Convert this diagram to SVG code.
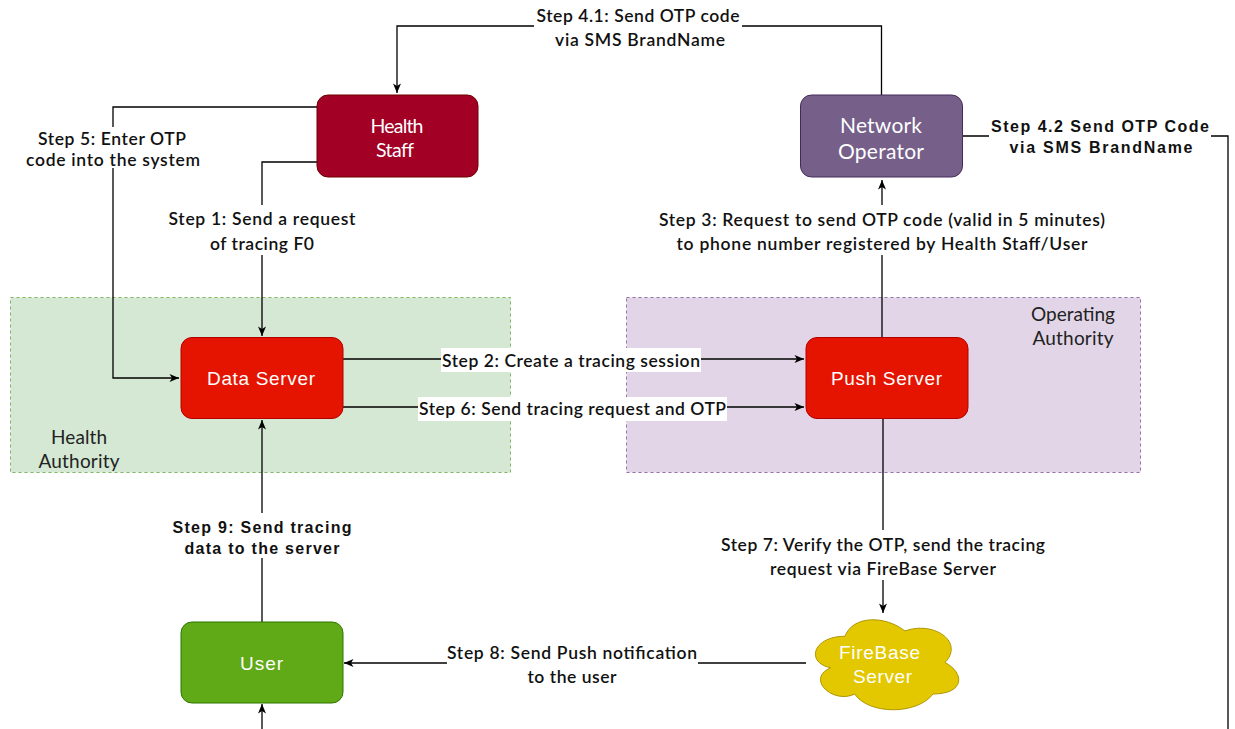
<svg xmlns="http://www.w3.org/2000/svg" width="1235" height="729" viewBox="0 0 1235 729">
<style>
.lbl{font-family:Lato,"Open Sans","Liberation Sans",sans-serif;font-size:17.5px;font-weight:600;fill:#111;text-anchor:middle;dominant-baseline:central}
.lbla{font-family:"Liberation Sans",Arial,sans-serif;font-size:16px;font-weight:bold;fill:#111;text-anchor:middle;dominant-baseline:central}
.nt{font-family:Lato,"Open Sans",sans-serif;font-size:19.5px;fill:#fff;text-anchor:middle;dominant-baseline:central}
.na{font-family:"Liberation Sans",Arial,sans-serif;font-size:19px;fill:#fff;text-anchor:middle;dominant-baseline:central}
.ct{font-family:Lato,"Open Sans",sans-serif;font-size:19px;fill:#222;text-anchor:middle;dominant-baseline:central}
.bg{fill:#fff}
.conn{fill:none;stroke:#000;stroke-width:1.3}
</style>
<defs>
<marker id="arr" viewBox="0 0 10 10" refX="10" refY="5" markerWidth="10" markerHeight="10" markerUnits="userSpaceOnUse" orient="auto">
<path d="M0.5,1 L10,5 L0.5,9 L3,5 Z" fill="#000"/>
</marker>
</defs>
<g id="health-authority">
<rect x="10.5" y="297.5" width="500" height="175" fill="#d5e8d4" stroke="#82b366" stroke-dasharray="3 3"/>
<text class="ct" x="79" y="436" textLength="56">Health</text>
<text class="ct" x="79" y="460" textLength="81">Authority</text>
</g>
<g id="operating-authority">
<rect x="626.5" y="297.5" width="514" height="175" fill="#e1d5e7" stroke="#9673a6" stroke-dasharray="3 3"/>
<text class="ct" x="1073" y="313" textLength="84">Operating</text>
<text class="ct" x="1073" y="337" textLength="81">Authority</text>
</g>
<g id="connectors">
<path class="conn" d="M881.5,95 V26 H397 V93" marker-end="url(#arr)"/>
<path class="conn" d="M963,136 H1228 V729"/>
<path class="conn" d="M317,107 H113 V378 H179" marker-end="url(#arr)"/>
<path class="conn" d="M317,162 H262 V336" marker-end="url(#arr)"/>
<path class="conn" d="M343,359 H804" marker-end="url(#arr)"/>
<path class="conn" d="M343,407 H804" marker-end="url(#arr)"/>
<path class="conn" d="M882,337 V180" marker-end="url(#arr)"/>
<path class="conn" d="M883,419 V613" marker-end="url(#arr)"/>
<path class="conn" d="M806,663 H344" marker-end="url(#arr)"/>
<path class="conn" d="M262,622 V420" marker-end="url(#arr)"/>
<path class="conn" d="M262,729 V704" marker-end="url(#arr)"/>
<g id="labels">
<rect class="bg" x="534" y="4" width="208" height="47"/>
<text class="lbl" x="638" y="15" textLength="203">Step 4.1: Send OTP code</text>
<text class="lbl" x="640" y="39" textLength="170">via SMS BrandName</text>
<rect class="bg" x="989" y="116" width="222" height="42"/>
<text class="lbla" x="1100" y="126" textLength="218">Step 4.2 Send OTP Code</text>
<text class="lbla" x="1101" y="147" textLength="183">via SMS BrandName</text>
<rect class="bg" x="24" y="127" width="178" height="41"/>
<text class="lbl" x="112" y="138" textLength="148">Step 5: Enter OTP</text>
<text class="lbl" x="113" y="159" textLength="174">code into the system</text>
<rect class="bg" x="166" y="205" width="191" height="50"/>
<text class="lbl" x="262" y="218" textLength="187">Step 1: Send a request</text>
<text class="lbl" x="262" y="243" textLength="104">of tracing F0</text>
<rect class="bg" x="657" y="205" width="450" height="50"/>
<text class="lbl" x="882" y="219" textLength="446">Step 3: Request to send OTP code (valid in 5 minutes)</text>
<text class="lbl" x="882" y="243" textLength="411">to phone number registered by Health Staff/User</text>
<rect class="bg" x="441" y="348" width="260" height="24"/>
<text class="lbl" x="571" y="360" textLength="258">Step 2: Create a tracing session</text>
<rect class="bg" x="418" y="397" width="309" height="24"/>
<text class="lbl" x="572.5" y="408" textLength="307">Step 6: Send tracing request and OTP</text>
<rect class="bg" x="719" y="530" width="328" height="50"/>
<text class="lbl" x="883" y="544" textLength="324">Step 7: Verify the OTP, send the tracing</text>
<text class="lbl" x="883" y="568" textLength="226">request via FireBase Server</text>
<rect class="bg" x="447" y="640" width="251" height="48"/>
<text class="lbl" x="572" y="652" textLength="250">Step 8: Send Push notification</text>
<text class="lbl" x="572" y="676" textLength="89">to the user</text>
<rect class="bg" x="171" y="513" width="183" height="45"/>
<text class="lbla" x="262" y="527" textLength="179">Step 9:  Send tracing</text>
<text class="lbla" x="262" y="548" textLength="155">data to the server</text>
</g>
</g>
<g id="health-staff">
<rect x="317" y="95" width="161" height="82" rx="11" fill="#a20025" stroke="#6f0000"/>
<text class="nt" x="397" y="125" textLength="53">Health</text>
<text class="nt" x="395" y="149" textLength="38">Staff</text>
</g>
<g id="network-operator">
<rect x="800.5" y="95" width="162" height="82" rx="11" fill="#76608a" stroke="#432d57"/>
<text class="nt" x="881" y="124" style="font-size:21px" textLength="82">Network</text>
<text class="nt" x="881" y="150" style="font-size:21px" textLength="86">Operator</text>
</g>
<g id="data-server">
<rect x="181" y="337.5" width="162" height="81" rx="11" fill="#e51400" stroke="#b20000"/>
<text class="na" x="261" y="378" textLength="108">Data Server</text>
</g>
<g id="push-server">
<rect x="806" y="337.5" width="162" height="81" rx="11" fill="#e51400" stroke="#b20000"/>
<text class="na" x="886.5" y="378" textLength="111">Push Server</text>
</g>
<g id="user">
<rect x="181" y="622" width="162" height="81" rx="11" fill="#60a917" stroke="#2d7600"/>
<text class="na" x="261.5" y="663" textLength="43">User</text>
</g>
<g id="firebase-server">
<path d="M845,636.25 C813,636.25 805,662.5 830.6,667.75 C805,679.3 833.8,704.5 854.6,694 C869,715 917,715 933,694 C965,694 965,673 945,662.5 C965,641.5 933,620.5 905,631 C885,615.25 853,615.25 845,636.25 Z" fill="#e3c800" stroke="#b09500"/>
<text class="na" x="879.5" y="652" style="font-size:19px" textLength="81">FireBase</text>
<text class="na" x="882.5" y="676" style="font-size:19px" textLength="59">Server</text>
</g>
</svg>
